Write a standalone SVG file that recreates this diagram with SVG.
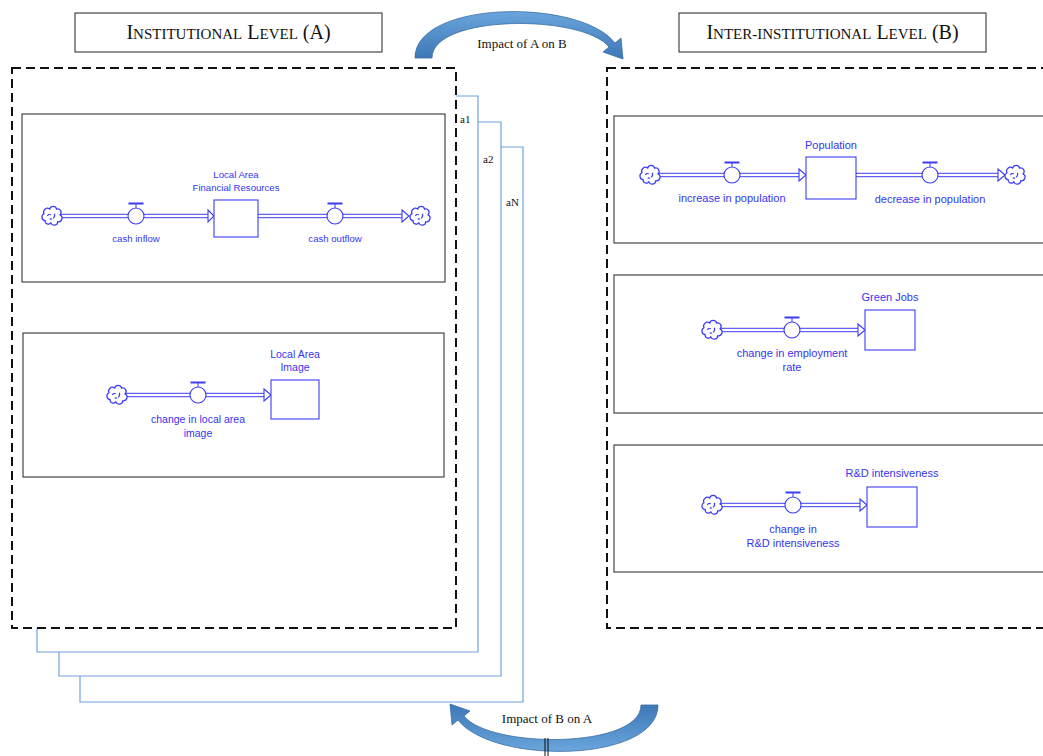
<svg xmlns="http://www.w3.org/2000/svg" xmlns:xlink="http://www.w3.org/1999/xlink" width="1043" height="756" viewBox="0 0 1043 756">
  <style>
    .title { font-family: "Liberation Serif", "Times New Roman", serif; fill: #111; }
    .serif { font-family: "Liberation Serif", "Times New Roman", serif; fill: #111; }
    .lbl { font-family: "Liberation Sans", Arial, sans-serif; fill: #3535f0; text-anchor: middle; }
    .frame { fill: #fff; stroke: #222; stroke-width: 1; }
    .dash { fill: none; stroke: #111; stroke-width: 2; stroke-dasharray: 9 5; }
    .page { fill: none; stroke: #6fa2dc; stroke-width: 1.2; }
    .pipe { stroke: #3c3cf4; stroke-width: 1; fill: none; }
    .sf { stroke: #3c3cf4; stroke-width: 1.1; fill: #fff; }
    .bar { fill: #3c3cf4; }
  </style>
  <defs>
    <linearGradient id="arrowFill" x1="0" y1="0" x2="0" y2="1">
      <stop offset="0" stop-color="#6aa5dc"/>
      <stop offset="1" stop-color="#3d77b6"/>
    </linearGradient>
    <!-- curved block arrow, tail at lower left, head at lower right -->
    <path id="bigArrow" d="M415,58 C415,0 580,-2 615,43 L621,38 L623,59 L603,52 L609,47 C583,14 432,14 432,58 Z" fill="url(#arrowFill)" stroke="#3a6ea8" stroke-width="0.8"/>
    <!-- source / sink cloud -->
    <g id="cloud">
      <g transform="scale(1.15)">
        <path class="sf" d="M-6,4 a3.2,3.2 0 0 1 -1,-6 a3.3,3.3 0 0 1 5,-4 a3.1,3.1 0 0 1 6,0 a3,3 0 0 1 3,5 a3.2,3.2 0 0 1 -2,6 a3.1,3.1 0 0 1 -6,1 a2.8,2.8 0 0 1 -5,-2 z"/>
        <path class="pipe" d="M-4,0 q1,-2 3,-1 M2,-2 q1,2 -1,4 M-2,3 q1,-1 2,0"/>
      </g>
    </g>
    <!-- flow valve -->
    <g id="valve">
      <line x1="0" y1="-8" x2="0" y2="-12" class="pipe"/>
      <rect x="-7.5" y="-13.5" width="15" height="2" class="bar"/>
      <circle cx="0" cy="0" r="8" class="sf"/>
    </g>
  </defs>

  <rect width="1043" height="756" fill="#fff"/>

  <!-- level headers -->
  <g id="header-a">
    <rect x="75" y="13" width="307" height="39" class="frame"/>
    <text x="228.5" y="39" class="title" text-anchor="middle"><tspan font-size="20">I</tspan><tspan font-size="15">NSTITUTIONAL</tspan><tspan font-size="20"> L</tspan><tspan font-size="15">EVEL</tspan><tspan font-size="20"> (A)</tspan></text>
  </g>
  <g id="header-b">
    <rect x="679" y="13" width="307" height="39" class="frame"/>
    <text x="832.5" y="39" class="title" text-anchor="middle"><tspan font-size="20">I</tspan><tspan font-size="15">NTER-INSTITUTIONAL</tspan><tspan font-size="20"> L</tspan><tspan font-size="15">EVEL</tspan><tspan font-size="20"> (B)</tspan></text>
  </g>

  <!-- stacked institution pages behind level A -->
  <g id="pages">
    <polyline class="page" points="501,147 523,147 523,702 80,702 80,676"/>
    <polyline class="page" points="478,122 501,122 501,676 59,676 59,652"/>
    <polyline class="page" points="456,96 478,96 478,652 37,652 37,628"/>
    <text x="460" y="123" class="serif" font-size="11">a1</text>
    <text x="483" y="163" class="serif" font-size="11">a2</text>
    <text x="506" y="206" class="serif" font-size="11">aN</text>
  </g>

  <!-- level containers -->
  <g id="level-a">
    <rect x="12" y="68" width="444" height="560" fill="#fff"/>
    <rect x="12" y="68" width="444" height="560" class="dash"/>
  </g>
  <g id="level-b">
    <rect x="607" y="68" width="450" height="560" class="dash"/>
  </g>

  <!-- A: local area financial resources -->
  <g id="model-finance">
    <rect x="22" y="114" width="423" height="168" class="frame"/>
    <line class="pipe" x1="52" y1="214.3" x2="210" y2="214.3"/>
    <line class="pipe" x1="52" y1="217.7" x2="210" y2="217.7"/>
    <polygon class="sf" points="208,210 214,216 208,222"/>
    <line class="pipe" x1="258" y1="214.3" x2="404" y2="214.3"/>
    <line class="pipe" x1="258" y1="217.7" x2="404" y2="217.7"/>
    <polygon class="sf" points="402,210 409,216 402,222"/>
    <use href="#cloud" x="52" y="216"/>
    <use href="#cloud" x="420" y="216"/>
    <use href="#valve" x="136" y="216"/>
    <use href="#valve" x="335" y="216"/>
    <rect x="214" y="200" width="44" height="37" class="sf"/>
    <text class="lbl" font-size="9.6" x="236" y="178">Local Area</text>
    <text class="lbl" font-size="9.6" x="236" y="191">Financial Resources</text>
    <text class="lbl" font-size="9.6" x="136" y="242">cash inflow</text>
    <text class="lbl" font-size="9.6" x="335" y="242">cash outflow</text>
  </g>

  <!-- A: local area image -->
  <g id="model-image">
    <rect x="23" y="333" width="421" height="144" class="frame"/>
    <line class="pipe" x1="117" y1="393.3" x2="266" y2="393.3"/>
    <line class="pipe" x1="117" y1="396.7" x2="266" y2="396.7"/>
    <polygon class="sf" points="264,389 271,395 264,401"/>
    <use href="#cloud" x="117" y="395"/>
    <use href="#valve" x="198" y="395"/>
    <rect x="271" y="380" width="48" height="39" class="sf"/>
    <text class="lbl" font-size="10.5" x="295" y="358">Local Area</text>
    <text class="lbl" font-size="10.5" x="295" y="371">Image</text>
    <text class="lbl" font-size="10.5" x="198" y="423">change in local area</text>
    <text class="lbl" font-size="10.5" x="198" y="437">image</text>
  </g>

  <!-- B: population -->
  <g id="model-population">
    <rect x="614" y="116" width="440" height="127" class="frame"/>
    <line class="pipe" x1="650" y1="173.3" x2="801" y2="173.3"/>
    <line class="pipe" x1="650" y1="176.7" x2="801" y2="176.7"/>
    <polygon class="sf" points="799,169 806,175 799,181"/>
    <line class="pipe" x1="856" y1="173.3" x2="1000" y2="173.3"/>
    <line class="pipe" x1="856" y1="176.7" x2="1000" y2="176.7"/>
    <polygon class="sf" points="998,169 1005,175 998,181"/>
    <use href="#cloud" x="650" y="175"/>
    <use href="#cloud" x="1015" y="175"/>
    <use href="#valve" x="732" y="175"/>
    <use href="#valve" x="930" y="175"/>
    <rect x="806" y="157" width="50" height="42" class="sf"/>
    <text class="lbl" font-size="11" x="831" y="149">Population</text>
    <text class="lbl" font-size="11" x="732" y="202">increase in population</text>
    <text class="lbl" font-size="11" x="930" y="203">decrease in population</text>
  </g>

  <!-- B: green jobs -->
  <g id="model-jobs">
    <rect x="614" y="275" width="440" height="138" class="frame"/>
    <line class="pipe" x1="712" y1="328.3" x2="860" y2="328.3"/>
    <line class="pipe" x1="712" y1="331.7" x2="860" y2="331.7"/>
    <polygon class="sf" points="858,324 865,330 858,336"/>
    <use href="#cloud" x="712" y="330"/>
    <use href="#valve" x="792" y="330"/>
    <rect x="865" y="310" width="50" height="40" class="sf"/>
    <text class="lbl" font-size="11" x="890" y="301">Green Jobs</text>
    <text class="lbl" font-size="11" x="792" y="357">change in employment</text>
    <text class="lbl" font-size="11" x="792" y="371">rate</text>
  </g>

  <!-- B: R&D intensiveness -->
  <g id="model-rd">
    <rect x="614" y="445" width="440" height="127" class="frame"/>
    <line class="pipe" x1="712" y1="503.3" x2="862" y2="503.3"/>
    <line class="pipe" x1="712" y1="506.7" x2="862" y2="506.7"/>
    <polygon class="sf" points="860,499 867,505 860,511"/>
    <use href="#cloud" x="712" y="505"/>
    <use href="#valve" x="793" y="505"/>
    <rect x="867" y="487" width="50" height="40" class="sf"/>
    <text class="lbl" font-size="11" x="892" y="477">R&amp;D intensiveness</text>
    <text class="lbl" font-size="11" x="793" y="533">change in</text>
    <text class="lbl" font-size="11" x="793" y="547">R&amp;D intensiveness</text>
  </g>

  <!-- impact arrows between the two levels -->
  <g id="connectors">
    <use href="#bigArrow"/>
    <text x="522" y="48" class="serif" font-size="13" text-anchor="middle">Impact of A on B</text>
    <use href="#bigArrow" transform="rotate(180 536.5 381.5)"/>
    <text x="547" y="723" class="serif" font-size="13" text-anchor="middle">Impact of B on A</text>
    <line x1="545" y1="738" x2="545" y2="756" stroke="#111" stroke-width="1"/>
    <line x1="548" y1="738" x2="548" y2="756" stroke="#111" stroke-width="1"/>
  </g>
</svg>
